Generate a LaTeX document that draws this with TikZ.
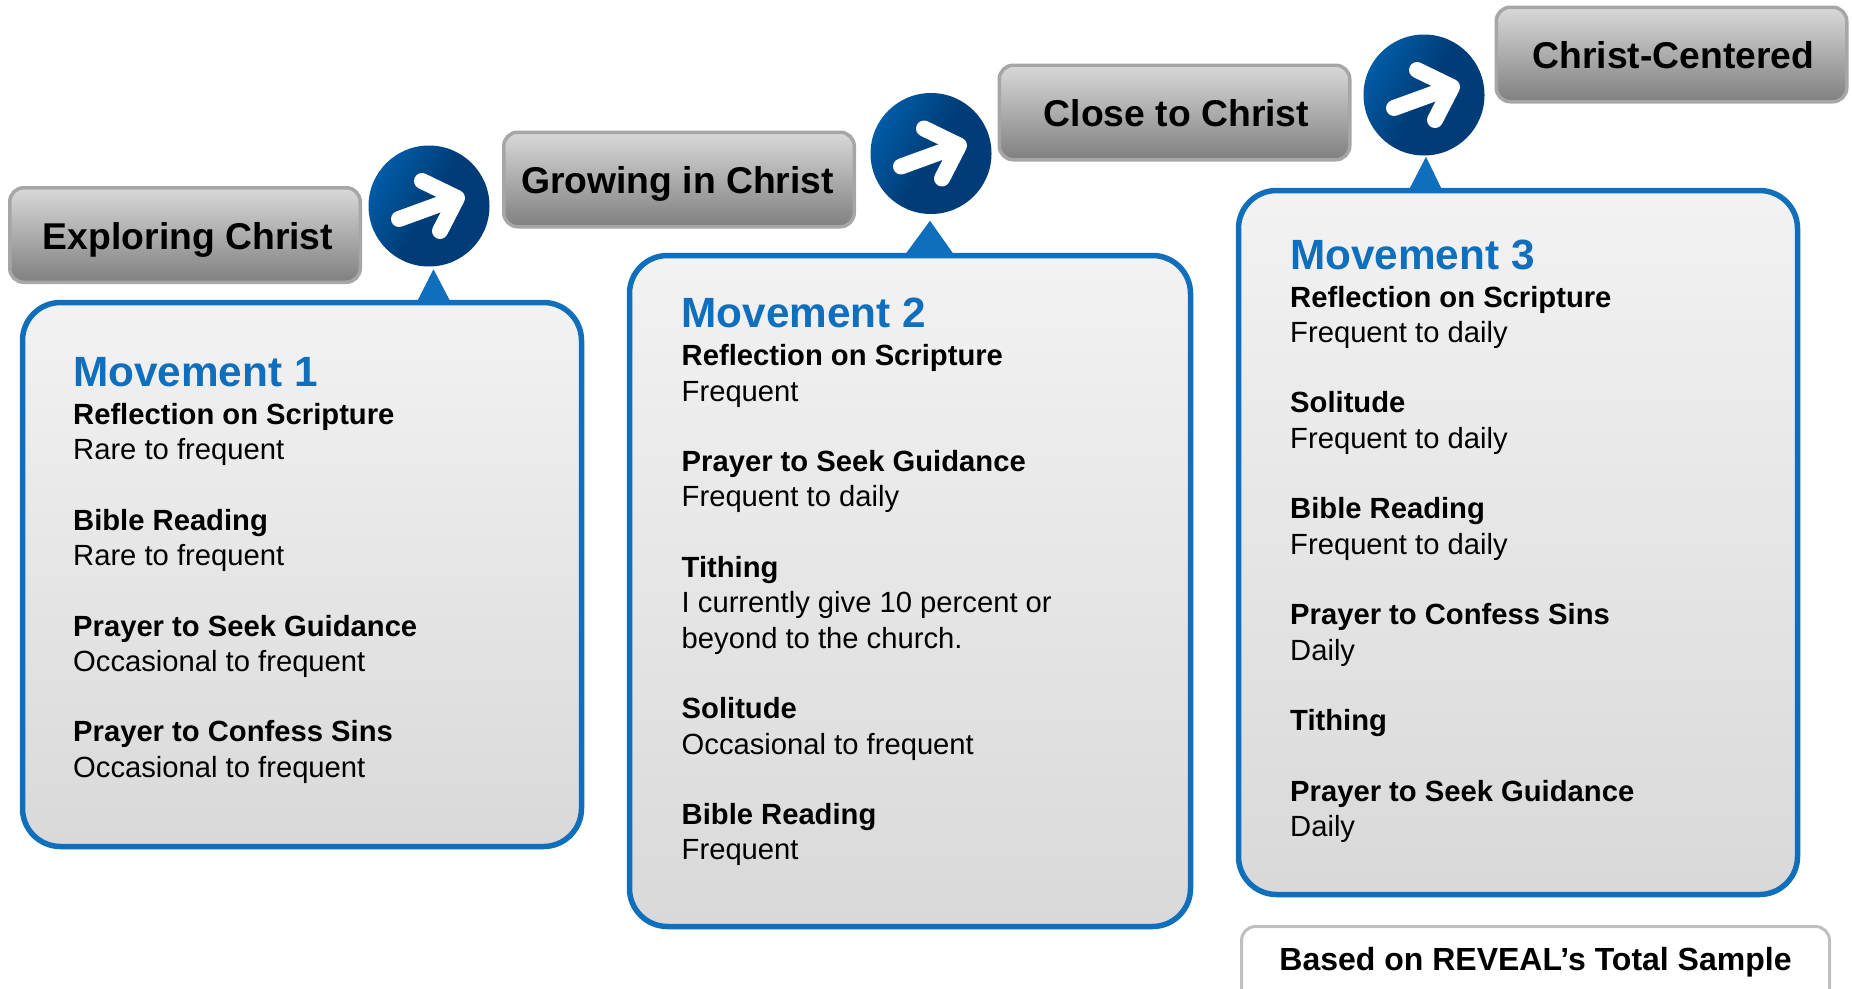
\documentclass[tikz,border=0pt]{standalone}
\usepackage{fontspec}
\setmainfont{Liberation Sans}
\definecolor{mvblue}{HTML}{0F6FBC}
\definecolor{circA}{HTML}{005CA6}
\definecolor{circB}{HTML}{003D78}
\tikzset{
  x=1pt,y=-1pt,
  stagebox/.style={draw=black!35,line width=3.5pt,rounded corners=14pt,top color=black!15,bottom color=black!50,
    minimum width=350.5pt,minimum height=94.5pt,inner sep=0pt,text height=28.5pt,text depth=0pt,
    font=\fontsize{37.3}{40}\selectfont\bfseries,text=black},
  mvbox/.style={draw=mvblue,line width=5.5pt,rounded corners=38pt,top color=black!5,bottom color=black!15,inner sep=0pt},
  mvtitle/.style={anchor=base west,inner sep=0pt,text=mvblue,font=\fontsize{42.3}{44}\selectfont\bfseries},
  mvbody/.style={anchor=base west,inner sep=0pt,align=left,text=black,font=\fontsize{29.2}{35.3}\selectfont},
  stepcirc/.style={circle,minimum size=121pt,inner sep=0pt,left color=circA,right color=circB,middle color=circB,shading angle=60},
  arrowmark/.style={draw=white,line width=16pt,line cap=round,line join=round},
  pointer/.style={fill=mvblue,draw=none},
  notebox/.style={draw=black!25,line width=3pt,rounded corners=14pt,fill=white,minimum width=588pt,inner sep=0pt,
    text height=44pt,text depth=38pt,font=\fontsize{32}{36}\selectfont\bfseries,anchor=north}
}
\newcommand{\arrowin}[1]{%
  \draw[arrowmark] ([shift={(-30,13)}]#1.center) -- ([shift={(25,-7)}]#1.center);
  \draw[arrowmark] ([shift={(-7,-25)}]#1.center) -- ([shift={(28,-8)}]#1.center) -- ([shift={(11,25)}]#1.center);
}
\newcommand{\bh}[1]{\textbf{#1}}
\begin{document}
\begin{tikzpicture}
\useasboundingbox (0,0) rectangle (1852,988);
\clip (0,0) rectangle (1852,988);
% stage boxes
\node[stagebox] (s1) at (185,235) {\kern6pt Exploring Christ};
\node[stagebox] (s2) at (679,179.5) {\kern-3pt Growing in Christ};
\node[stagebox] (s3) at (1174.5,112.5) {\kern4pt Close to Christ};
\node[stagebox] (s4) at (1671.5,54.5) {\kern4pt Christ-Centered};
% movement boxes
\node[mvbox,minimum width=559pt,minimum height=544pt] (m1) at (302,574.5) {};
\node[mvbox,minimum width=561pt,minimum height=671pt] (m2) at (910,591) {};
\node[mvbox,minimum width=559pt,minimum height=704pt] (m3) at (1518,542.5) {};
% pointers
\fill[pointer] ([shift={(115,2)}]m1.north) -- ([shift={(131.5,-30.5)}]m1.north) -- ([shift={(148.5,2)}]m1.north) -- cycle;
\fill[pointer] ([shift={(-5,2)}]m2.north) -- ([shift={(20,-32)}]m2.north) -- ([shift={(44,2)}]m2.north) -- cycle;
\fill[pointer] ([shift={(-109,2)}]m3.north) -- ([shift={(-92,-31)}]m3.north) -- ([shift={(-76,2)}]m3.north) -- cycle;
% circles
\node[stepcirc] (c1) at (429,206) {};
\node[stepcirc] (c2) at (931,153.5) {};
\node[stepcirc] (c3) at (1424,95) {};
\arrowin{c1}\arrowin{c2}\arrowin{c3}
% box 1 text
\node[mvtitle] (t1) at (73,386.2) {Movement 1};
\node[mvbody] (b1) at (73,777.2) {\bh{Reflection on Scripture}\\Rare to frequent\\[35.3pt]\bh{Bible Reading}\\Rare to frequent\\[35.3pt]\bh{Prayer to Seek Guidance}\\Occasional to frequent\\[35.3pt]\bh{Prayer to Confess Sins}\\Occasional to frequent};
% box 2 text
\node[mvtitle] (t2) at (681.5,327.7) {Movement 2};
\node[mvbody] (b2) at (681.5,859.9) {\bh{Reflection on Scripture}\\Frequent\\[35.3pt]\bh{Prayer to Seek Guidance}\\Frequent to daily\\[35.3pt]\bh{Tithing}\\I currently give 10 percent or\\beyond to the church.\\[35.3pt]\bh{Solitude}\\Occasional to frequent\\[35.3pt]\bh{Bible Reading}\\Frequent};
% box 3 text
\node[mvtitle] (t3) at (1290,269.2) {Movement 3};
\node[mvbody] (b3) at (1290,836.5) {\bh{Reflection on Scripture}\\Frequent to daily\\[35.3pt]\bh{Solitude}\\Frequent to daily\\[35.3pt]\bh{Bible Reading}\\Frequent to daily\\[35.3pt]\bh{Prayer to Confess Sins}\\Daily\\[35.3pt]\bh{Tithing}\\[35.3pt]\bh{Prayer to Seek Guidance}\\Daily};
% note
\node[notebox] (n) at (1535.5,925) {Based on REVEAL’s Total Sample};
\end{tikzpicture}
\end{document}
